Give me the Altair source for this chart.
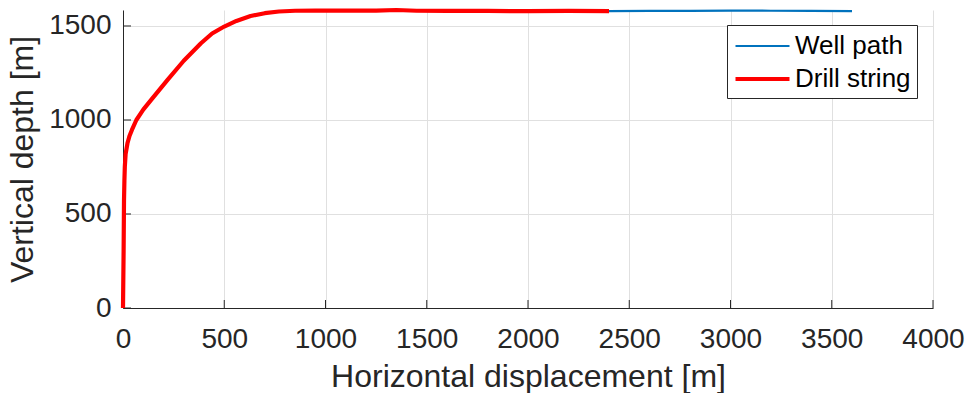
import altair as alt
import pandas as pd

# Well trajectory: horizontal displacement [m] and vertical depth [m]
well_x = [0, 3, 5, 7, 9, 13, 22, 32, 44, 66, 100, 140, 220, 300, 385, 440, 500,
          560, 630, 700, 770, 850, 950, 1100, 1250, 1350, 1450, 1600, 1800, 2000,
          2200, 2400, 2600, 2800, 3000, 3200, 3400, 3600]
well_d = [0, 300, 574, 680, 752, 820, 876, 915, 947, 1000, 1055, 1108, 1213, 1315,
          1408, 1460, 1497, 1527, 1553, 1568, 1577, 1581, 1582, 1582, 1582, 1585,
          1581, 1580, 1580, 1579, 1580, 1579, 1580, 1580, 1582, 1581, 1580, 1579]

# The drill string has reached 2400 m of horizontal displacement
string_end = 2400

x_ticks = [0, 500, 1000, 1500, 2000, 2500, 3000, 3500, 4000]
y_ticks = [0, 500, 1000, 1500]

series_names = ["Well path", "Drill string"]
series_colors = ["#0072BD", "#FF0000"]
series_widths = [2.2, 4.2]

rows = []
for i, (x, d) in enumerate(zip(well_x, well_d)):
    rows.append({"series": "Well path", "idx": i, "x": x, "d": d})
for i, (x, d) in enumerate(zip(well_x, well_d)):
    if x <= string_end:
        rows.append({"series": "Drill string", "idx": i, "x": x, "d": d})
df = pd.DataFrame(rows)

W, H = 810, 298
FONT = "Liberation Sans"
INK = "#262626"

x_scale = alt.Scale(domain=[0, 4000], nice=False, zero=False)
y_scale = alt.Scale(domain=[0, 1585], nice=False, zero=False)

legend = alt.Legend(title=None, orient="none", legendX=604, legendY=15)

lines = alt.Chart(df).mark_line(clip=False, strokeCap="butt", strokeJoin="round").encode(
    x=alt.X("x:Q", scale=x_scale,
            axis=alt.Axis(values=x_ticks, title="Horizontal displacement [m]",
                          ticks=False, labelPadding=17, titlePadding=8,
                          labelFlush=False, format="d")),
    y=alt.Y("d:Q", scale=y_scale,
            axis=alt.Axis(values=y_ticks, title="Vertical depth [m]",
                          ticks=False, labelPadding=12, titlePadding=9,
                          format="d")),
    color=alt.Color("series:N",
                    scale=alt.Scale(domain=series_names, range=series_colors),
                    legend=legend),
    strokeWidth=alt.StrokeWidth("series:N",
                                scale=alt.Scale(domain=series_names, range=series_widths),
                                legend=legend),
    order=alt.Order("idx:Q"),
    detail="series:N",
)

tick_x = alt.Chart(pd.DataFrame({"t": x_ticks})).mark_rule(color=INK, strokeWidth=1).encode(
    x=alt.X("t:Q", scale=x_scale),
    y=alt.value(H),
    y2=alt.value(H - 8),
)

tick_y = alt.Chart(pd.DataFrame({"t": y_ticks})).mark_rule(color=INK, strokeWidth=1).encode(
    y=alt.Y("t:Q", scale=y_scale),
    x=alt.value(0),
    x2=alt.value(8),
)

chart = alt.layer(tick_x, tick_y, lines).properties(
    width=W, height=H,
    autosize=alt.AutoSizeParams(type="none"),
    padding={"left": 123, "top": 10, "right": 32, "bottom": 85},
    background="white",
).configure_view(stroke=None).configure_axis(
    labelFont=FONT, titleFont=FONT, labelFontSize=28, titleFontSize=32,
    labelColor=INK, titleColor=INK, titleFontWeight="normal",
    domainColor=INK, domainWidth=1, gridColor="#e0e0e0", gridWidth=1,
).configure_legend(
    labelFont=FONT, labelFontSize=26, labelColor="black",
    # a horizontal stroke, offset to the right of the symbol centre
    symbolType="M-1,0H3", symbolSize=729, labelOffset=30,
    symbolFillColor="transparent",
    strokeColor=INK, fillColor="white", padding=6, rowPadding=4,
    cornerRadius=0, labelLimit=300,
)

chart.save("out.html", embed_options={"renderer": "svg", "actions": False})
